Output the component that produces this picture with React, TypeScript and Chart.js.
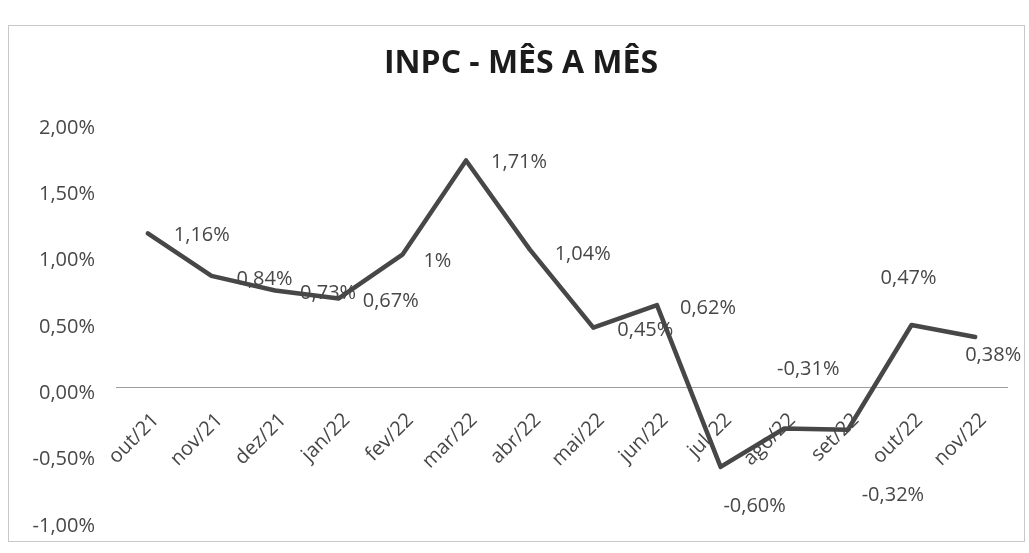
import React, { useEffect, useRef } from "react";
import { Chart, registerables } from "chart.js";

Chart.register(...registerables);

// ---- data ----
const categories = [
  "out/21", "nov/21", "dez/21", "jan/22", "fev/22", "mar/22", "abr/22",
  "mai/22", "jun/22", "jul/22", "ago/22", "set/22", "out/22", "nov/22",
];
const inpcValues = [1.16, 0.84, 0.73, 0.67, 1, 1.71, 1.04, 0.45, 0.62, -0.6, -0.31, -0.32, 0.47, 0.38];
const yTickValues = [-1, -0.5, 0, 0.5, 1, 1.5, 2];
const chartTitle = "INPC - MÊS A MÊS";

// ---- label placement (style: offset of label centre from its point, px) ----
const labelDx = [54, 53, 53, 52, 35, 53, 53, 52, 51, 34, 24, 45, -3, 18];
const labelDy = [1, 2, 2, 2, 5, 1, 4, 1, 2, 38, -60, 64, -48, 17];

const FONT = "'Open Sans', 'DejaVu Sans', sans-serif";
const TEXT = "#474747";

const fmtAxis = (v: number) => v.toFixed(2).replace(".", ",") + "%";
const fmtLabel = (v: number) =>
  Number.isInteger(v) ? `${v}%` : v.toFixed(2).replace(".", ",") + "%";

const decorPlugin = {
  id: "decor",
  beforeDraw(chart: any) {
    const ctx = chart.ctx;
    ctx.save();
    ctx.fillStyle = "#ffffff";
    ctx.fillRect(0, 0, chart.width, chart.height);
    ctx.strokeStyle = "#c8c8c8";
    ctx.lineWidth = 1;
    ctx.strokeRect(8.5, 25.5, 1016, 516);
    ctx.fillStyle = "#1c1c1c";
    ctx.font = `bold 32px ${FONT}`;
    ctx.textAlign = "center";
    ctx.textBaseline = "alphabetic";
    ctx.fillText(chartTitle, 521, 73);
    ctx.restore();
  },
  afterDatasetsDraw(chart: any) {
    const ctx = chart.ctx;
    const meta = chart.getDatasetMeta(0);
    ctx.save();
    ctx.fillStyle = TEXT;
    ctx.font = `20px ${FONT}`;
    ctx.textAlign = "center";
    ctx.textBaseline = "alphabetic";
    meta.data.forEach((pt: any, i: number) => {
      ctx.fillText(fmtLabel(inpcValues[i]), pt.x + labelDx[i], pt.y + labelDy[i] + 7);
    });
    ctx.restore();
  },
};

export default function App() {
  const canvasRef = useRef<HTMLCanvasElement | null>(null);

  useEffect(() => {
    document.body.style.margin = "0";
    const canvas = canvasRef.current;
    if (!canvas) return;
    const chart = new Chart(canvas, {
      type: "line",
      data: {
        labels: categories,
        datasets: [
          {
            data: inpcValues,
            borderColor: "#474747",
            borderWidth: 4.5,
            pointRadius: 0,
            tension: 0,
            borderJoinStyle: "round",
            borderCapStyle: "round",
          },
        ],
      },
      options: {
        animation: false,
        responsive: false,
        devicePixelRatio: 1,
        layout: { padding: { top: 122, left: 0, right: 22, bottom: 32 } },
        plugins: { legend: { display: false }, title: { display: false }, tooltip: { enabled: false } },
        scales: {
          x: {
            type: "category",
            offset: true,
            position: { y: 0 } as any,
            grid: { display: false, drawTicks: false },
            border: { display: true, color: "#9e9e9e", width: 1 },
            ticks: {
              autoSkip: false,
              minRotation: 45,
              maxRotation: 45,
              padding: 21,
              labelOffset: 8,
              color: TEXT,
              font: { family: FONT, size: 20 },
            },
          },
          y: {
            min: -1,
            max: 2,
            afterFit: (scale: any) => {
              scale.width = 116;
            },
            afterBuildTicks: (scale: any) => {
              scale.ticks = yTickValues.map((v) => ({ value: v }));
            },
            grid: { display: false, drawTicks: false },
            border: { display: false },
            ticks: {
              padding: 21,
              labelOffset: 6,
              color: TEXT,
              font: { family: FONT, size: 20 },
              callback: (v: any) => fmtAxis(Number(v)),
            },
          },
        },
      },
      plugins: [decorPlugin],
    });
    return () => chart.destroy();
  }, []);

  return (
    <div style={{ position: "fixed", left: 0, top: 0, width: 1029, height: 553, background: "#fff" }}>
      <canvas ref={canvasRef} width={1029} height={553} style={{ width: 1029, height: 553, display: "block" }} />
    </div>
  );
}
